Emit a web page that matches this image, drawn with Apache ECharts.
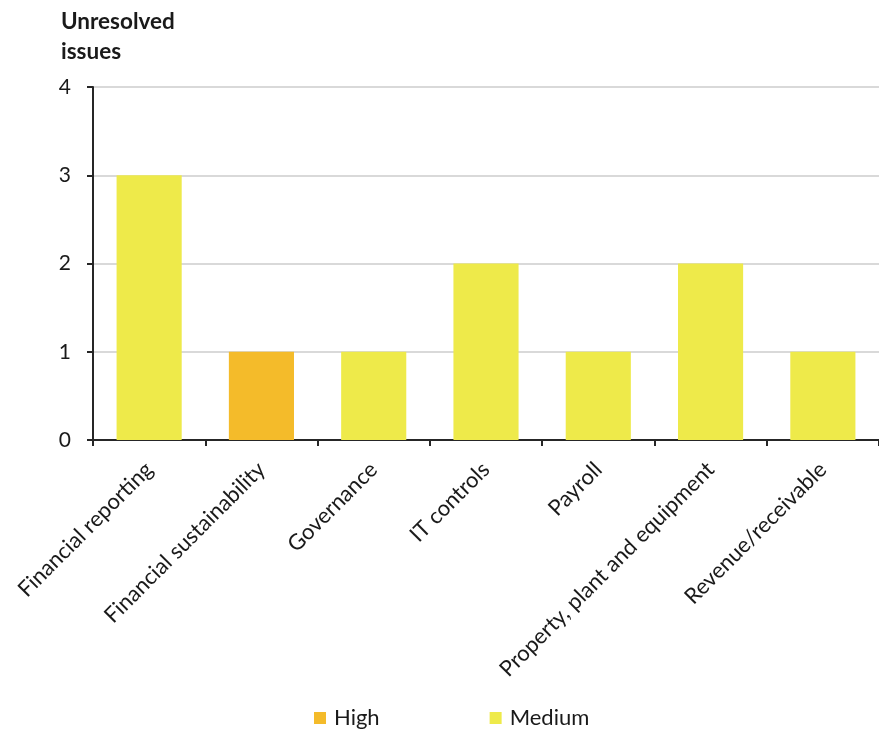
<!DOCTYPE html>
<html><head><meta charset="utf-8">
<script src="https://cdn.jsdelivr.net/npm/echarts@6/dist/echarts.min.js"></script>
<style>html,body{margin:0;padding:0;background:#fff}#c{width:879px;height:731px}</style>
</head><body><div id="c"></div>
<script>
const categories = ["Financial reporting","Financial sustainability","Governance","IT controls","Payroll","Property, plant and equipment","Revenue/receivable"];
const highValues = [null,1,null,null,null,null,null];
const mediumValues = [3,null,1,2,1,2,1];
const yTicks = [0,1,2,3,4];
const FONT = "Lato, 'Open Sans', sans-serif";
const chart = echarts.init(document.getElementById('c'));
chart.setOption({
  animation:false,
  textStyle:{fontFamily:FONT,color:'#1a1a1a'},
  title:{text:'Unresolved\nissues',left:56,top:2,textStyle:{fontFamily:FONT,fontSize:22.5,fontWeight:'bold',color:'#1a1a1a',lineHeight:30}},
  legend:{top:702,left:309,itemGap:110,itemWidth:12,itemHeight:12,icon:'rect',
    textStyle:{fontFamily:FONT,fontSize:22,color:'#1a1a1a',padding:[0,0,0,3]},data:['High','Medium']},
  grid:{left:93,right:0,top:87,bottom:291,containLabel:false},
  xAxis:{type:'category',data:categories,
    axisLine:{lineStyle:{color:'#262626',width:2}},
    axisTick:{show:true,length:6,lineStyle:{color:'#262626',width:2}},
    axisLabel:{rotate:45,fontSize:22,color:'#1a1a1a',margin:26,interval:0}},
  yAxis:{type:'value',min:0,max:4,interval:1,
    axisLine:{show:true,lineStyle:{color:'#262626',width:2}},
    axisTick:{show:true,length:6,lineStyle:{color:'#262626',width:2}},
    axisLabel:{fontSize:21,color:'#1a1a1a',margin:22},
    splitLine:{lineStyle:{color:'#d9d9d9',width:2}}},
  series:[
    {name:'High',type:'bar',stack:'s',data:highValues,barWidth:'58%',itemStyle:{color:'#F4BB2A'}},
    {name:'Medium',type:'bar',stack:'s',data:mediumValues,barWidth:'58%',itemStyle:{color:'#EEEA4A'}}
  ]
});
</script></body></html>
